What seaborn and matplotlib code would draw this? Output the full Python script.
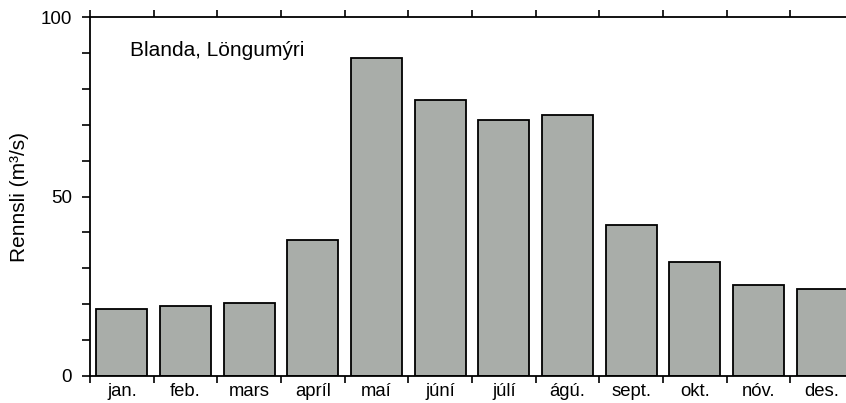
import matplotlib
matplotlib.use("Agg")
import numpy as np
import pandas as pd
import seaborn as sns
import matplotlib.pyplot as plt
from matplotlib.ticker import FixedLocator, MultipleLocator

months = ["jan.", "feb.", "mars", "apríl", "maí", "júní",
          "júlí", "ágú.", "sept.", "okt.", "nóv.", "des."]
flow = [18.8, 19.5, 20.2, 37.8, 88.5, 76.8, 71.3, 72.6, 42.2, 31.8, 25.3, 24.3]

station = "Blanda, Löngumýri"
y_label = "Rennsli (m³/s)"

sns.set_style("ticks")
plt.rcParams["font.family"] = ["Liberation Sans", "DejaVu Sans"]
plt.rcParams["font.size"] = 13
plt.rcParams["text.color"] = "black"
plt.rcParams["axes.labelcolor"] = "black"
plt.rcParams["xtick.color"] = "black"
plt.rcParams["ytick.color"] = "black"

df = pd.DataFrame({"month": months, "flow": flow})

fig = plt.figure(figsize=(8.46, 4.03), dpi=100)
ax = fig.add_axes([90 / 846, 27 / 403, 764 / 846, 359 / 403])

sns.barplot(data=df, x="month", y="flow", color="#a9ada9", saturation=1,
            edgecolor="black", linewidth=1.3, width=0.8, ax=ax)

ax.set_xlim(-0.5, 11.5)
ax.set_ylim(0, 100)

# boundaries between months get the tick marks, labels sit in the middle
ax.xaxis.set_major_locator(FixedLocator(np.arange(-0.5, 11.0, 1.0)))
ax.xaxis.set_minor_locator(FixedLocator(np.arange(12)))
ax.set_xticklabels([], minor=False)
ax.set_xticklabels(months, minor=True)
ax.tick_params(axis="x", which="major", direction="out", length=5, width=1.2,
               top=True, bottom=True)
ax.tick_params(axis="x", which="minor", length=0, pad=5, labelsize=13.3)

ax.yaxis.set_major_locator(FixedLocator([0, 50, 100]))
ax.yaxis.set_minor_locator(MultipleLocator(10))
ax.tick_params(axis="y", which="both", direction="out", length=6, width=1.2,
               pad=7, labelsize=13.5)

for side in ["left", "bottom", "top"]:
    ax.spines[side].set_visible(True)
    ax.spines[side].set_linewidth(1.3)
    ax.spines[side].set_color("black")
ax.spines["right"].set_visible(False)

ax.set_xlabel("")
ax.set_ylabel(y_label, fontsize=15, labelpad=8)

ax.text(0.13, 90.6, station, fontsize=15, ha="left", va="center")

fig.savefig("out.png", dpi=100)
